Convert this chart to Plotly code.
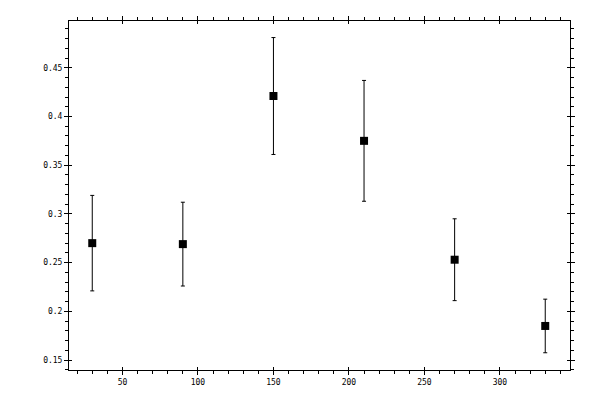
import plotly.graph_objects as go

angles = [30, 90, 150, 210, 270, 330]
values = [0.270, 0.269, 0.421, 0.375, 0.253, 0.185]
errors = [0.049, 0.043, 0.060, 0.062, 0.042, 0.0275]

xRange = [14.6, 346.4]
yRange = [0.1398, 0.498]

tickFont = dict(family="DejaVu Sans Mono", size=8, color="black")

fig = go.Figure()

fig.add_trace(go.Scatter(
    x=angles,
    y=values,
    mode="markers",
    marker=dict(symbol="square", size=8, color="black"),
    error_y=dict(type="data", array=errors, visible=True,
                 color="black", thickness=1, width=2),
    showlegend=False,
))

# invisible trace so the overlay axes (inward halves of the major ticks) get drawn
fig.add_trace(go.Scatter(
    x=angles[:1], y=values[:1], xaxis="x2", yaxis="y2",
    mode="markers", marker=dict(opacity=0), hoverinfo="skip", showlegend=False,
))

# the page body adds an offset, so margins are shifted to compensate
fig.update_layout(
    width=600,
    height=400,
    margin=dict(l=61, r=38, t=8, b=38),
    paper_bgcolor="white",
    plot_bgcolor="white",
    font=tickFont,
    xaxis=dict(
        range=xRange, tick0=0, dtick=50,
        ticks="outside", ticklen=4, tickcolor="black", tickwidth=1,
        showline=True, linecolor="black", linewidth=1, mirror="ticks",
        showgrid=False, zeroline=False, tickfont=tickFont,
        minor=dict(dtick=10, tick0=0, ticks="outside", ticklen=3,
                   tickcolor="black", showgrid=False),
    ),
    yaxis=dict(
        range=yRange, tick0=0, dtick=0.05,
        ticks="outside", ticklen=4, tickcolor="black", tickwidth=1,
        showline=True, linecolor="black", linewidth=1, mirror="ticks",
        showgrid=False, zeroline=False, tickfont=tickFont,
        minor=dict(dtick=0.01, tick0=0, ticks="outside", ticklen=3,
                   tickcolor="black", showgrid=False),
    ),
    xaxis2=dict(
        range=xRange, overlaying="x", anchor="y", tick0=0, dtick=50,
        ticks="inside", ticklen=3, tickcolor="black",
        showline=False, mirror="ticks", showticklabels=False,
        showgrid=False, zeroline=False,
    ),
    yaxis2=dict(
        range=yRange, overlaying="y", anchor="x", tick0=0, dtick=0.05,
        ticks="inside", ticklen=3, tickcolor="black",
        showline=False, mirror="ticks", showticklabels=False,
        showgrid=False, zeroline=False,
    ),
)

fig.write_html("out.html")
